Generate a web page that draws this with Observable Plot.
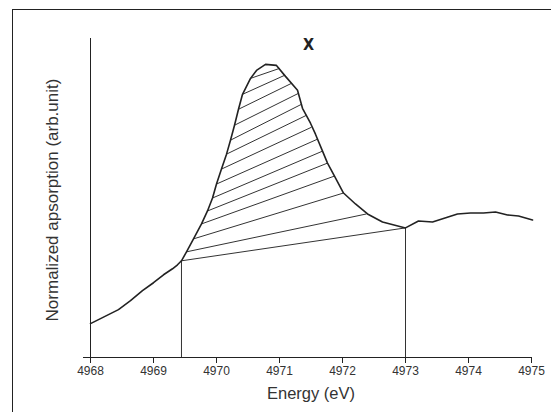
<!DOCTYPE html>
<html>
<head>
<meta charset="utf-8">
<script src="https://cdn.jsdelivr.net/npm/d3@7"></script>
<script src="https://cdn.jsdelivr.net/npm/@observablehq/plot@0.6"></script>
<style>
  html, body { margin: 0; padding: 0; background: #fff; }
  #wrap { position: relative; width: 551px; height: 412px; overflow: hidden; }
  #border { position: absolute; left: 12px; top: 9px; width: 560px; height: 420px;
            border-left: 1.6px solid #222; border-top: 1.6px solid #222; pointer-events: none; }
  #chart { position: absolute; left: 0; top: 0; }
</style>
</head>
<body>
<div id="wrap"><div id="chart"></div><div id="border"></div></div>
<script>
// XANES spectrum (Energy in eV, normalized absorption in arb. units)
const energy = [4968.000, 4968.222, 4968.444, 4968.635, 4968.825, 4969.000, 4969.159, 4969.302, 4969.381, 4969.444,
  4969.524, 4969.635, 4969.762, 4969.857, 4969.937, 4970.000, 4970.079, 4970.159, 4970.222, 4970.286,
  4970.349, 4970.413, 4970.540, 4970.635, 4970.778, 4970.952, 4971.095, 4971.286, 4971.365, 4971.492,
  4971.571, 4971.683, 4971.762, 4971.873, 4972.016, 4972.206, 4972.397, 4972.635, 4973.000, 4973.206,
  4973.429, 4973.825, 4974.032, 4974.238, 4974.429, 4974.619, 4974.794, 4975.016];
const absorption = [0.170, 0.205, 0.240, 0.285, 0.335, 0.375, 0.415, 0.445, 0.465, 0.485,
  0.530, 0.595, 0.670, 0.735, 0.800, 0.870, 0.945, 1.020, 1.090, 1.165,
  1.245, 1.320, 1.400, 1.440, 1.470, 1.465, 1.410, 1.340, 1.250, 1.175,
  1.120, 1.035, 0.975, 0.910, 0.825, 0.770, 0.720, 0.680, 0.650, 0.685,
  0.680, 0.720, 0.725, 0.725, 0.730, 0.715, 0.710, 0.690];

// Integration limits (vertical lines)
const limitEnergy = [4969.444, 4973.000];
const limitAbsorption = [0.485, 0.650];

// Hatch lines of the shaded peak area (left end -> right end)
const hatchE1 = [4969.444, 4969.524, 4969.635, 4969.762, 4969.857, 4969.937, 4970.000, 4970.079, 4970.159, 4970.222, 4970.286, 4970.349, 4970.413, 4970.540];
const hatchA1 = [0.485, 0.530, 0.595, 0.670, 0.735, 0.800, 0.870, 0.945, 1.020, 1.090, 1.165, 1.245, 1.320, 1.400];
const hatchE2 = [4973.000, 4972.381, 4972.016, 4971.873, 4971.762, 4971.683, 4971.603, 4971.508, 4971.429, 4971.349, 4971.302, 4971.190, 4971.079, 4971.000];
const hatchA2 = [0.650, 0.720, 0.825, 0.910, 0.975, 1.035, 1.095, 1.155, 1.215, 1.270, 1.325, 1.375, 1.415, 1.450];

// Peak annotation
const annoText = ["X"];
const annoEnergy = [4971.46];
const annoAbsorption = [1.57];

const xTicks = [4968, 4969, 4970, 4971, 4972, 4973, 4974, 4975];

const spectrum = energy.map((e, i) => ({e, a: absorption[i]}));
const hatch = hatchE1.map((e, i) => ({x1: e, y1: hatchA1[i], x2: hatchE2[i], y2: hatchA2[i]}));
const limits = limitEnergy.map((e, i) => ({e, a: limitAbsorption[i]}));
const anno = annoText.map((t, i) => ({t, e: annoEnergy[i], a: annoAbsorption[i]}));

const font = "'Liberation Sans', Arial, Helvetica, sans-serif";

const chart = Plot.plot({
  width: 551,
  height: 412,
  marginLeft: 90,
  marginRight: 20,
  marginTop: 38,
  marginBottom: 55,
  style: {fontFamily: font, background: "white", color: "#333"},
  x: {domain: [4968, 4975]},
  y: {domain: [0, 1.6]},
  marks: [
    Plot.link(hatch, {x1: "x1", y1: "y1", x2: "x2", y2: "y2", stroke: "#333", strokeWidth: 1}),
    Plot.ruleX(limits, {x: "e", y1: 0, y2: "a", stroke: "#333", strokeWidth: 1}),
    Plot.line(spectrum, {x: "e", y: "a", stroke: "#222", strokeWidth: 1.6, strokeLinejoin: "round"}),
    Plot.ruleX([4968], {stroke: "#222", strokeWidth: 1}),
    Plot.ruleY([0], {stroke: "#222", strokeWidth: 1, insetLeft: -7}),
    Plot.axisX({ticks: xTicks, tickFormat: d => String(d), tickSize: 6, tickPadding: 3,
                fontSize: 12, label: null, stroke: "#222"}),
    Plot.axisY({ticks: [], label: null}),
    Plot.text(["Energy (eV)"], {frameAnchor: "bottom", dy: 41, fontSize: 16.5, fill: "#333"}),
    Plot.text(["Normalized apsorption (arb.unit)"], {frameAnchor: "left", textAnchor: "middle", rotate: -90,
                dx: -38, dy: 2, fontSize: 17, fill: "#333"}),
    Plot.text(anno, {x: "e", y: "a", text: "t", fontSize: 16, fontWeight: "bold",
                     fontFamily: "'Liberation Sans Narrow', 'DejaVu Sans Condensed', sans-serif", fill: "#222"})
  ]
});
document.getElementById("chart").appendChild(chart);
</script>
</body>
</html>
